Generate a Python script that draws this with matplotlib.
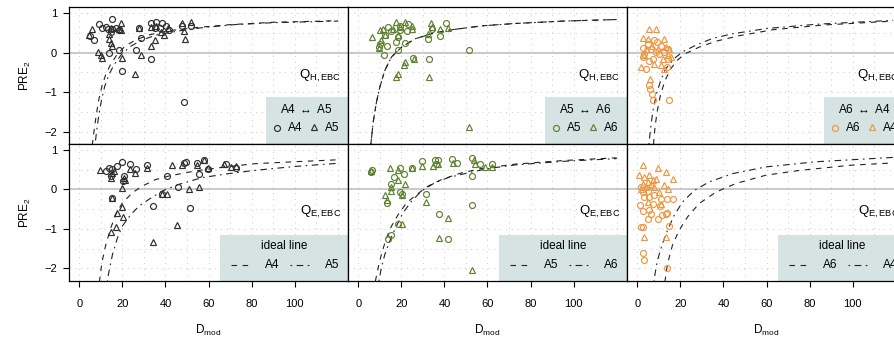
import matplotlib
matplotlib.use('Agg')
import matplotlib.pyplot as plt
from matplotlib.patches import Rectangle
from matplotlib.lines import Line2D

plt.rcParams['font.family'] = ['Liberation Sans', 'DejaVu Sans']
plt.rcParams['mathtext.fontset'] = 'custom'
plt.rcParams['mathtext.rm'] = 'Liberation Sans'
plt.rcParams['mathtext.it'] = 'Liberation Sans:italic'

# ---- data: column 1 (A4 <-> A5) ----
c1_top_circ_x = [15.4, 9.2, 10.4, 6.8, 4.8, 13.5, 14.6, 16.9, 18.5, 28.5, 18.5, 13.8, 26.2, 33.2, 20.0, 48.7,
                 33.2, 35.8, 38.3, 40.2, 41.7, 35.2, 27.5, 47.9, 51.8, 37.4, 15.4, 12.3]
c1_top_circ_y = [0.85, 0.72, 0.63, 0.33, 0.41, 0.59, 0.52, 0.63, 0.57, 0.37, 0.08, 0.00, 0.06, -0.17, -0.47, -1.25,
                 0.74, 0.79, 0.76, 0.68, 0.57, 0.63, 0.63, 0.68, 0.68, 0.63, 0.59, 0.65]
c1_top_tri_x = [6.0, 4.5, 14.6, 19.2, 18.5, 13.8, 14.6, 15.4, 8.8, 9.9, 10.7, 20.0, 28.5, 26.0, 27.5, 33.2,
                35.2, 33.2, 35.8, 37.8, 41.0, 47.9, 51.8, 48.7, 49.0, 19.2, 13.8, 39.1]
c1_top_tri_y = [0.59, 0.44, 0.63, 0.74, 0.61, 0.35, 0.25, 0.18, 0.02, -0.07, -0.14, -0.14, -0.07, -0.53, 0.63, 0.18,
                0.33, 0.65, 0.68, 0.52, 0.63, 0.74, 0.78, 0.54, 0.35, 0.57, 0.48, 0.46]
c1_top_dash_x = [6.0, 6.8, 7.8, 9.0, 10.5, 12.3, 14.5, 17.5, 21, 26, 33, 42, 55, 70, 90, 120]
c1_top_dash_y = [-2.35, -2.0, -1.6, -1.2, -0.85, -0.55, -0.3, -0.05, 0.15, 0.32, 0.46, 0.56, 0.64, 0.71, 0.77, 0.81]
c1_top_dd_x = [7.2, 8.0, 9.0, 10.3, 11.8, 13.8, 16.2, 19.5, 23.5, 29, 36, 46, 58, 72, 90, 120]
c1_top_dd_y = [-2.38, -2.0, -1.6, -1.2, -0.85, -0.55, -0.3, -0.05, 0.15, 0.32, 0.45, 0.55, 0.64, 0.71, 0.76, 0.80]

c1_bot_circ_x = [13.8, 17.7, 19.7, 23.6, 26.2, 31.6, 15.4, 14.6, 20.8, 20.3, 15.4, 40.6, 45.6, 38.6, 34.4, 51.3,
                 48.7, 49.5, 54.6, 55.7, 59.6, 58.0, 68.1, 72.7, 12.3]
c1_bot_circ_y = [0.53, 0.59, 0.70, 0.64, 0.51, 0.61, 0.51, 0.34, 0.34, 0.21, -0.23, 0.34, 0.07, -0.13, -0.42, -0.47,
                 0.68, 0.70, 0.68, 0.38, 0.51, 0.74, 0.64, 0.55, 0.47]
c1_bot_tri_x = [9.5, 14.6, 15.4, 16.1, 20.8, 21.3, 20.0, 23.4, 25.9, 31.6, 15.4, 19.8, 17.7, 20.5, 16.9, 14.6,
                42.9, 47.9, 54.6, 58.0, 38.3, 40.5, 51.0, 55.7, 45.3, 34.4, 59.6, 67.3, 70.4, 72.7]
c1_bot_tri_y = [0.48, 0.30, 0.42, 0.47, 0.30, 0.23, 0.04, 0.51, 0.42, 0.55, -0.21, -0.45, -0.59, -0.70, -0.96, -1.08,
                0.61, 0.61, 0.62, 0.74, -0.11, -0.11, 0.02, 0.06, -0.91, -1.33, 0.55, 0.64, 0.57, 0.59]
c1_bot_dash_x = [9.3, 10.5, 12.3, 14.6, 16.9, 20.0, 24.7, 29.3, 35.5, 41.7, 54.1, 68.1, 81.2, 100, 120]
c1_bot_dash_y = [-2.35, -1.85, -1.40, -0.98, -0.64, -0.34, -0.085, 0.085, 0.25, 0.34, 0.47, 0.57, 0.65, 0.70, 0.75]
c1_bot_dd_x = [13.0, 13.5, 15.4, 17.7, 20.0, 23.9, 27.8, 32.4, 38.6, 46.4, 57.2, 69.6, 81.2, 100, 120]
c1_bot_dd_y = [-2.35, -2.16, -1.65, -1.23, -0.93, -0.64, -0.42, -0.25, -0.04, 0.13, 0.30, 0.40, 0.48, 0.58, 0.66]

# ---- data: column 2 (A5 <-> A6) ----
c2_top_circ_x = [12.0, 18.5, 13.5, 9.5, 9.9, 17.7, 21.9, 18.5, 12.3, 15.4, 22.4, 25.5, 32.8, 32.5, 37.9, 40.7,
                 51.6, 19.3, 23.2, 13.8, 34.0, 19.3]
c2_top_circ_y = [-0.07, 0.08, 0.17, 0.14, 0.23, 0.27, 0.25, 0.40, 0.44, 0.54, 0.54, -0.14, -0.17, 0.35, 0.42, 0.76,
                 0.08, 0.68, 0.73, 0.65, 0.61, 0.57]
c2_top_tri_x = [6.4, 9.9, 11.5, 17.7, 21.9, 19.3, 24.7, 16.2, 18.5, 10.7, 9.5, 21.9, 26.0, 21.3, 18.5, 17.7,
                32.8, 33.7, 34.0, 37.9, 32.5, 51.6, 41.5, 12.3, 24.7]
c2_top_tri_y = [0.40, 0.57, 0.59, 0.78, 0.78, 0.65, 0.61, 0.61, 0.46, 0.31, 0.12, -0.24, -0.15, -0.31, -0.53, -0.62,
                -0.62, 0.74, 0.65, 0.61, 0.48, -1.89, 0.63, 0.44, 0.68]
c2_top_dash_x = [5.8, 6.9, 8.4, 10.0, 12.3, 15.4, 20.1, 26.3, 34.1, 41.8, 57.4, 72.9, 95, 120]
c2_top_dash_y = [-2.33, -1.76, -1.26, -0.87, -0.45, -0.11, 0.14, 0.35, 0.48, 0.57, 0.68, 0.74, 0.80, 0.84]
c2_top_dd_x = c2_top_dash_x
c2_top_dd_y = c2_top_dash_y

c2_bot_circ_x = [5.8, 6.4, 19.3, 21.3, 16.6, 15.1, 19.3, 20.1, 13.1, 29.7, 35.6, 35.9, 43.4, 45.7, 52.7, 52.7,
                 53.0, 56.6, 62.0, 31.4, 37.6, 41.8, 18.2, 15.4, 13.8, 24.7, 37.2]
c2_bot_circ_y = [0.45, 0.48, 0.53, 0.40, 0.32, 0.14, -0.06, -0.13, -0.34, 0.72, 0.74, 0.65, 0.76, 0.68, 0.79, 0.34,
                 -0.40, 0.65, 0.65, -0.13, -0.62, -1.27, -0.87, -1.15, -1.26, 0.53, 0.74]
c2_bot_tri_x = [6.1, 14.6, 18.2, 18.5, 21.6, 15.1, 15.4, 12.6, 13.5, 20.1, 29.7, 34.8, 36.8, 43.8, 53.5, 54.3,
                62.0, 31.3, 41.8, 37.5, 20.1, 53.0, 25.0, 58.9]
c2_bot_tri_y = [0.47, 0.55, 0.48, 0.25, 0.13, 0.06, -0.04, -0.14, -0.28, -0.14, 0.59, 0.59, 0.64, 0.68, 0.74, 0.64,
                0.57, -0.31, -0.72, -1.23, -0.87, -2.04, 0.55, 0.57]
c2_bot_dash_x = [7.9, 9.5, 11.1, 13.1, 15.4, 18.5, 22.4, 27.1, 32.5, 38.7, 48.0, 57.4, 72.9, 95, 120]
c2_bot_dash_y = [-2.33, -1.91, -1.57, -1.23, -0.93, -0.64, -0.34, -0.13, 0.085, 0.25, 0.42, 0.53, 0.64, 0.73, 0.80]
c2_bot_dd_x = [9.5, 10.7, 12.3, 14.6, 17.7, 20.8, 24.7, 29.4, 35.6, 41.8, 51.1, 60.5, 72.9, 95, 120]
c2_bot_dd_y = [-2.33, -1.99, -1.65, -1.31, -0.93, -0.59, -0.30, -0.04, 0.17, 0.30, 0.42, 0.53, 0.62, 0.71, 0.78]

# ---- data: column 3 (A6 <-> A4) ----
c3_top_circ_x = [2.5, 3.3, 6.4, 7.9, 11.0, 12.6, 14.1, 8.7, 7.1, 5.6, 4.0, 5.6, 6.0, 6.7, 7.1, 14.9,
                 9.2, 14.1, 2.5, 4.8, 10.2, 13.8]
c3_top_circ_y = [-0.11, -0.03, 0.10, 0.31, 0.18, 0.02, 0.10, 0.02, -0.15, -0.20, -0.41, -0.83, -0.93, -1.04, -1.21, -1.19,
                 0.27, -0.15, 0.12, 0.23, -0.03, -0.37]
c3_top_tri_x = [5.6, 8.7, 2.5, 5.1, 13.3, 14.9, 1.7, 7.6, 11.8, 14.1, 6.0, 12.6, 11.0, 4.0, 6.7, 9.5,
                12.6, 15.7, 2.9]
c3_top_tri_y = [0.59, 0.59, 0.37, 0.35, 0.14, 0.10, -0.36, -0.28, -0.15, -0.07, -0.66, -0.41, -0.32, 0.10, 0.18, 0.10,
                0.35, -0.11, -0.07]
c3_top_dash_x = [7.5, 8.2, 9.3, 10.9, 12.9, 15.5, 18.6, 22.5, 28.7, 36.5, 47.3, 62.9, 86.2, 118.8]
c3_top_dash_y = [-2.33, -1.89, -1.46, -1.04, -0.70, -0.41, -0.19, -0.02, 0.14, 0.29, 0.43, 0.58, 0.70, 0.80]
c3_top_dd_x = [5.4, 6.2, 7.3, 8.9, 10.9, 13.2, 17.1, 21.0, 27.2, 34.9, 44.3, 59.8, 83.1, 118.8]
c3_top_dd_y = [-2.33, -1.89, -1.46, -1.04, -0.70, -0.41, -0.15, 0.02, 0.19, 0.36, 0.48, 0.61, 0.72, 0.82]

c3_bot_circ_x = [1.7, 2.5, 3.3, 5.6, 7.9, 11.0, 13.8, 16.4, 1.4, 2.5, 5.6, 6.3, 5.1, 2.5, 1.7, 9.8,
                 11.3, 13.3, 13.8, 14.9, 2.8, 2.9, 13.7, 4.8, 10.7, 7.1]
c3_bot_circ_y = [0.06, -0.07, -0.20, -0.20, -0.15, -0.24, -0.24, -0.25, -0.39, -0.56, -0.53, -0.62, -0.75, -0.96, -0.96, -0.75,
                 -0.64, -0.62, -0.59, -0.92, -1.61, -1.78, -1.99, -0.03, -0.41, -0.36]
c3_bot_tri_x = [2.5, 9.5, 13.4, 16.4, 0.9, 3.2, 5.6, 4.8, 7.1, 1.7, 4.0, 7.9, 14.1, 10.2, 4.8, 11.0,
                2.9, 13.4, 6.4, 8.7, 2.5, 12.6]
c3_bot_tri_y = [0.61, 0.53, 0.44, 0.27, 0.36, 0.31, 0.36, 0.19, 0.23, 0.02, 0.06, 0.06, 0.02, -0.07, -0.32, -0.36,
                -1.21, -1.21, 0.14, 0.27, 0.14, 0.10]
c3_bot_dash_x = [12.8, 14.0, 16.3, 19.4, 23.3, 28.7, 36.5, 45.8, 59.8, 75.3, 98.6, 118.8]
c3_bot_dash_y = [-2.35, -1.89, -1.42, -1.04, -0.70, -0.36, -0.07, 0.15, 0.36, 0.48, 0.61, 0.67]
c3_bot_dd_x = [7.8, 8.2, 9.3, 11.6, 14.0, 17.1, 21.0, 26.4, 33.4, 44.3, 59.8, 83.1, 118.8]
c3_bot_dd_y = [-2.35, -2.15, -1.81, -1.38, -1.04, -0.66, -0.32, -0.03, 0.19, 0.40, 0.57, 0.70, 0.81]

pairs = [('A4', 'A5'), ('A5', 'A6'), ('A6', 'A4')]
colors = ['#2e2e2e', '#5f8030', '#ee9640']
row_labels = [r'$\mathrm{Q}_{\mathrm{H,EBC}}$', r'$\mathrm{Q}_{\mathrm{E,EBC}}$']

panels = [
    [(c1_top_circ_x, c1_top_circ_y, c1_top_tri_x, c1_top_tri_y, c1_top_dash_x, c1_top_dash_y, c1_top_dd_x, c1_top_dd_y),
     (c1_bot_circ_x, c1_bot_circ_y, c1_bot_tri_x, c1_bot_tri_y, c1_bot_dash_x, c1_bot_dash_y, c1_bot_dd_x, c1_bot_dd_y)],
    [(c2_top_circ_x, c2_top_circ_y, c2_top_tri_x, c2_top_tri_y, c2_top_dash_x, c2_top_dash_y, c2_top_dd_x, c2_top_dd_y),
     (c2_bot_circ_x, c2_bot_circ_y, c2_bot_tri_x, c2_bot_tri_y, c2_bot_dash_x, c2_bot_dash_y, c2_bot_dd_x, c2_bot_dd_y)],
    [(c3_top_circ_x, c3_top_circ_y, c3_top_tri_x, c3_top_tri_y, c3_top_dash_x, c3_top_dash_y, c3_top_dd_x, c3_top_dd_y),
     (c3_bot_circ_x, c3_bot_circ_y, c3_bot_tri_x, c3_bot_tri_y, c3_bot_dash_x, c3_bot_dash_y, c3_bot_dd_x, c3_bot_dd_y)],
]

W, H = 894, 342
lefts = [69, 348, 627]
tops = [7.3, 144]
pw, ph = 279, 136.5
dash_style = (0, (5, 5))
dd_style = (0, (1.5, 4, 6, 4))
box_col = '#d5e3e3'

fig = plt.figure(figsize=(W / 100, H / 100), dpi=100)

for col in range(3):
    for row in range(2):
        cx, cy, tx, ty, dx, dy, ddx, ddy = panels[col][row]
        ax = fig.add_axes([lefts[col] / W, 1 - (tops[row] + ph) / H, pw / W, ph / H])
        ax.set_xlim(-4.8, 124.8)
        ax.set_ylim(-2.31, 1.15)

        # background grid
        for gx in range(0, 121, 10):
            ax.axvline(gx, color='#c8c8c8', lw=0.7, ls=(0, (1, 5)), zorder=0)
        for gy in [-2, -1.5, -1, -0.5, 0.5, 1]:
            ax.axhline(gy, color='#c8c8c8', lw=0.7, ls=(0, (1, 5)), zorder=0)
        ax.axhline(0, color='#c0c0c0', lw=1.2, zorder=0)

        c = colors[col]
        ax.plot(dx, dy, color='#222222', lw=0.8, ls=dash_style, zorder=2)
        ax.plot(ddx, ddy, color='#222222', lw=0.8, ls=dd_style, zorder=2)
        ax.plot(cx, cy, ls='none', marker='o', ms=4.3, mfc='none', mec=c, mew=0.85, zorder=3)
        ax.plot(tx, ty, ls='none', marker='^', ms=5.0, mfc='none', mec=c, mew=0.85, zorder=3)

        ax.text(0.975, 0.5, row_labels[row], transform=ax.transAxes, ha='right', va='center',
                fontsize=9.5, zorder=4)

        # legend boxes
        if row == 0:
            ax.add_patch(Rectangle((0.705, 0), 0.295, 0.34, transform=ax.transAxes,
                                   facecolor=box_col, edgecolor='none', zorder=5))
            ax.text(0.852, 0.254, r'%s $\leftrightarrow$ %s' % pairs[col], transform=ax.transAxes,
                    ha='center', va='center', fontsize=8.5, zorder=6)
            ax.add_line(Line2D([0.744], [0.115], transform=ax.transAxes, marker='o', ms=4.3,
                               mfc='none', mec=c, mew=0.85, ls='none', zorder=6))
            ax.text(0.785, 0.115, pairs[col][0], transform=ax.transAxes, ha='left', va='center',
                    fontsize=8.5, zorder=6)
            ax.add_line(Line2D([0.879], [0.125], transform=ax.transAxes, marker='^', ms=5.0,
                               mfc='none', mec=c, mew=0.85, ls='none', zorder=6))
            ax.text(0.918, 0.115, pairs[col][1], transform=ax.transAxes, ha='left', va='center',
                    fontsize=8.5, zorder=6)
        else:
            ax.add_patch(Rectangle((0.542, 0), 0.458, 0.333, transform=ax.transAxes,
                                   facecolor=box_col, edgecolor='none', zorder=5))
            ax.text(0.771, 0.253, 'ideal line', transform=ax.transAxes,
                    ha='center', va='center', fontsize=8.5, zorder=6)
            ax.add_line(Line2D([0.581, 0.652], [0.114, 0.114], transform=ax.transAxes,
                               color='#222222', lw=0.8, ls=dash_style, zorder=6))
            ax.text(0.73, 0.114, pairs[col][0], transform=ax.transAxes, ha='center', va='center',
                    fontsize=8.5, zorder=6)
            ax.add_line(Line2D([0.792, 0.867], [0.114, 0.114], transform=ax.transAxes,
                               color='#222222', lw=0.8, ls=dd_style, zorder=6))
            ax.text(0.943, 0.114, pairs[col][1], transform=ax.transAxes, ha='center', va='center',
                    fontsize=8.5, zorder=6)

        for s in ax.spines.values():
            s.set_linewidth(0.9)
            s.set_color('black')
            s.set_zorder(7)

        ax.set_xticks([0, 20, 40, 60, 80, 100])
        ax.set_yticks([-2, -1, 0, 1])
        ax.tick_params(direction='out', length=4.5, width=0.8, labelsize=8)
        ax.tick_params(axis='x', pad=9)
        ax.tick_params(axis='y', pad=4)
        if row == 0:
            ax.tick_params(axis='x', bottom=False, labelbottom=False)
        else:
            ax.set_xlabel(r'D$_{\mathrm{mod}}$', fontsize=8.5, labelpad=10)
        if col > 0:
            ax.tick_params(axis='y', left=False, labelleft=False)
        else:
            ax.set_ylabel(r'PRE$_2$', fontsize=8.5, labelpad=8)

fig.savefig('out.png', dpi=100)
